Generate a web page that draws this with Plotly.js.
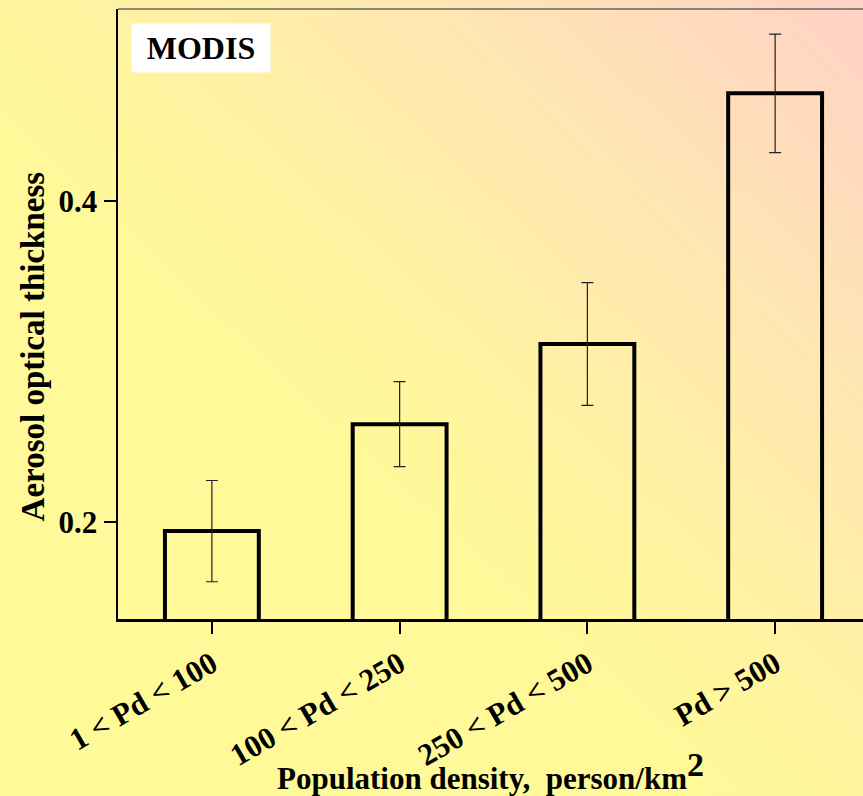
<!DOCTYPE html>
<html>
<head>
<meta charset="utf-8">
<script src="https://cdn.plot.ly/plotly-3.0.1.min.js"></script>
<style>
  html, body { margin:0; padding:0; }
  body {
    width:863px; height:796px; overflow:hidden;
    background: linear-gradient(to top right, #fffb98 0%, #fff89a 45%, #ffeaae 70%, #ffd2c6 100%);
  }
  #chart { width:863px; height:796px; }
</style>
</head>
<body>
<div id="chart"></div>
<script>
const categories = ["1 < Pd < 100", "100 < Pd < 250", "250 < Pd < 500", "Pd > 500"];
const aotValues = [0.1945, 0.2611, 0.3110, 0.4670];
const aotErrors = [0.0315, 0.0265, 0.0382, 0.0369];
const yTickValues = [0.2, 0.4];
const yTickLabels = ["0.2", "0.4"];
const xTitle = "Population density,  person/km<sup><span style=\"font-size:34px\">2</span></sup>";
const yTitle = "Aerosol optical thickness";
const panelLabel = "MODIS";

const serif = "Liberation Serif, Times New Roman, serif";

const trace = {
  type: "bar",
  x: categories.map((c, i) => i),
  y: aotValues,
  width: 0.5,
  marker: { color: "rgba(0,0,0,0)", line: { color: "#000", width: 4 } },
  error_y: { type: "data", array: aotErrors, visible: true, color: "#222", thickness: 1.2, width: 6 },
  hoverinfo: "skip"
};

const layout = {
  width: 863, height: 796,
  margin: { l: 118, r: 0, t: 9, b: 177 },
  paper_bgcolor: "rgba(0,0,0,0)",
  plot_bgcolor: "rgba(0,0,0,0)",
  showlegend: false,
  font: { family: serif, color: "#000" },
  xaxis: {
    range: [-0.5, 3.468],
    tickmode: "array",
    tickvals: categories.map((c, i) => i),
    ticktext: categories,
    tickangle: -30,
    ticks: "outside", ticklen: 12, tickwidth: 2, tickcolor: "#000",
    showline: true, linecolor: "#000", linewidth: 3,
    showgrid: false, zeroline: false,
    tickfont: { family: serif, size: 31, weight: "bold", color: "#000" },
    title: { text: xTitle, font: { family: serif, size: 31, weight: "bold", color: "#000" }, standoff: 4 }
  },
  yaxis: {
    range: [0.1398, 0.5195],
    tickmode: "array",
    tickvals: yTickValues,
    ticktext: yTickLabels,
    ticks: "outside", ticklen: 12, tickwidth: 2, tickcolor: "#000",
    showline: true, linecolor: "#000", linewidth: 2.5,
    showgrid: false, zeroline: false,
    tickfont: { family: serif, size: 31, weight: "bold", color: "#000" }
  },
  shapes: [
    { type: "line", xref: "paper", yref: "paper", x0: 0, x1: 1, y0: 1, y1: 1, line: { color: "#666", width: 1.5 } }
  ],
  annotations: [
    { xref: "paper", yref: "paper", x: 0.0175, y: 0.977, xanchor: "left", yanchor: "top",
      text: "<b>" + panelLabel + "</b>", showarrow: false, bgcolor: "#fff", width: 136, height: 46,
      font: { family: serif, size: 32, color: "#000" } },
    { xref: "paper", yref: "paper", x: -0.114, y: 0.447, xanchor: "center", yanchor: "middle",
      text: "<b>" + yTitle + "</b>", textangle: -90, showarrow: false,
      font: { family: serif, size: 33, color: "#000" } }
  ]
};

Plotly.newPlot("chart", [trace], layout, { displayModeBar: false, staticPlot: true });
</script>
</body>
</html>
